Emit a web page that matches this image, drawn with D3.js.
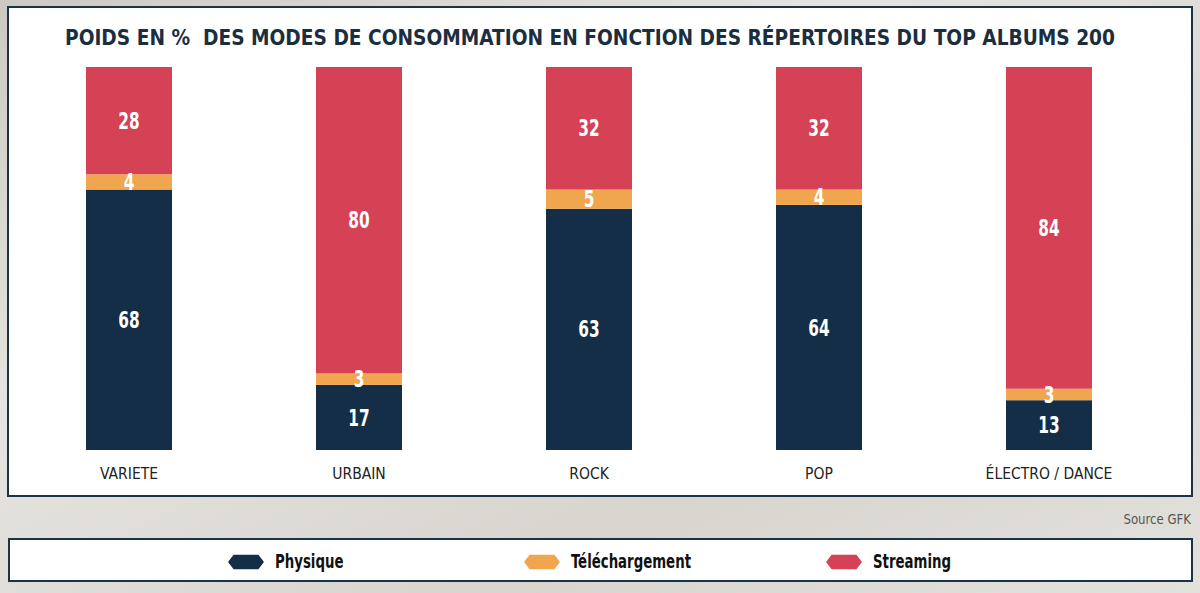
<!DOCTYPE html>
<html><head><meta charset="utf-8">
<script src="https://cdn.jsdelivr.net/npm/d3@7"></script>
<style>
html,body{margin:0;padding:0;}
body{width:1200px;height:593px;overflow:hidden;}
</style></head>
<body>
<svg id="c" width="1200" height="593"></svg>
<script>
const categories = ["VARIETE", "URBAIN", "ROCK", "POP", "ÉLECTRO / DANCE"];
const seriesNames = ["Physique", "Téléchargement", "Streaming"];
const physique = [68, 17, 63, 64, 13];
const telechargement = [4, 3, 5, 4, 3];
const streaming = [28, 80, 32, 32, 84];
const colors = ["#142e47", "#f0a64e", "#d54155"];
const title = "POIDS EN %  DES MODES DE CONSOMMATION EN FONCTION DES RÉPERTOIRES DU TOP ALBUMS 200";
const source = "Source GFK";

const FONT = "'DejaVu Sans Condensed', sans-serif";
const svg = d3.select("#c");
const defs = svg.append("defs");
const g = defs.append("linearGradient").attr("id","bg").attr("x1","0").attr("y1","0").attr("x2","1").attr("y2","1");
g.append("stop").attr("offset","0").attr("stop-color","#cdc9c2");
g.append("stop").attr("offset","0.35").attr("stop-color","#e6e4e0");
g.append("stop").attr("offset","0.7").attr("stop-color","#d8d5cf");
g.append("stop").attr("offset","1").attr("stop-color","#e3e1dc");
svg.append("rect").attr("width",1200).attr("height",593).attr("fill","url(#bg)");

// panel
svg.append("rect").attr("x",8).attr("y",7).attr("width",1184).attr("height",489)
  .attr("fill","#fff").attr("stroke","#1d3246").attr("stroke-width",2);
// legend box
svg.append("rect").attr("x",9).attr("y",539).attr("width",1183).attr("height",42)
  .attr("fill","#fff").attr("stroke","#1d3246").attr("stroke-width",2);

svg.append("text").attr("x",590).attr("y",45).attr("text-anchor","middle")
  .attr("font-family",FONT).attr("font-weight","bold").attr("font-size",20.5)
  .attr("xml:space","preserve").style("white-space","pre")
  .attr("fill","#1b2e40").attr("textLength",1050).attr("lengthAdjust","spacingAndGlyphs")
  .text(title);

const x = d3.scaleBand().domain(categories).range([14, 1164]).paddingInner(1 - 86/230).paddingOuter((230-86)/230/2);
const y = d3.scaleLinear().domain([0,100]).range([450, 67]);

const data = categories.map((c,i)=>({cat:c, Physique:physique[i], "Téléchargement":telechargement[i], Streaming:streaming[i]}));
const stack = d3.stack().keys(seriesNames)(data);

const layers = svg.append("g").selectAll("g").data(stack).join("g").attr("fill",(d,i)=>colors[i]);
layers.selectAll("rect").data(d=>d).join("rect")
  .attr("x",d=>x(d.data.cat)).attr("width",x.bandwidth())
  .attr("y",d=>y(d[1])).attr("height",d=>y(d[0])-y(d[1]));

const labels = svg.append("g");
stack.forEach(layer=>{
  layer.forEach(d=>{
    const cx = x(d.data.cat)+x.bandwidth()/2;
    const cy = (y(d[0])+y(d[1]))/2;
    labels.append("text")
      .attr("transform", `translate(${cx},${cy}) scale(0.76,1)`)
      .attr("dy","0.36em")
      .attr("text-anchor","middle")
      .attr("font-family",FONT).attr("font-weight","bold").attr("font-size",22.5)
      .attr("fill","#fff")
      .text(d[1]-d[0]);
  });
});

// x axis labels
const xAxis = d3.axisBottom(x).tickSize(0).tickPadding(0);
const ax = svg.append("g").attr("transform","translate(0,468)").call(xAxis);
ax.select(".domain").remove();
ax.selectAll("text").attr("font-family",FONT).attr("font-size",15.5).attr("fill","#222").attr("dy","0.7em");

svg.append("text").attr("transform","translate(1191,524) scale(0.9,1)").attr("text-anchor","end")
  .attr("font-family",FONT).attr("font-size",14.5).attr("fill","#555").text(source);

// legend
const legendX = [229, 525, 827];
const lg = svg.append("g").selectAll("g").data(seriesNames).join("g")
  .attr("transform",(d,i)=>`translate(${legendX[i]},562)`);
lg.append("path").attr("d","M5,-6.5 L29,-6.5 L34,0 L29,6.5 L5,6.5 L0,0 Z")
  .attr("fill",(d,i)=>colors[i]).attr("stroke",(d,i)=>colors[i]).attr("stroke-width",1.5).attr("stroke-linejoin","round");
lg.append("text").attr("transform","translate(46,0) scale(0.76,1)").attr("dy","0.32em")
  .attr("font-family",FONT).attr("font-weight","bold").attr("font-size",19.5).attr("fill","#111")
  .text(d=>d);
</script>
</body></html>
